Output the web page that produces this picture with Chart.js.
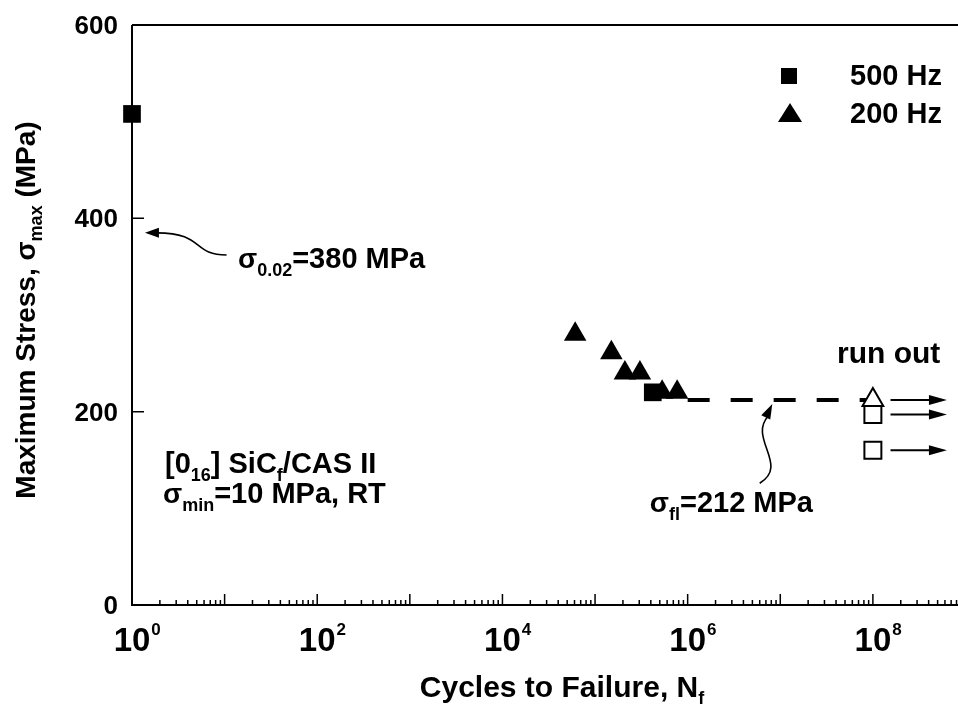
<!DOCTYPE html>
<html>
<head>
<meta charset="utf-8">
<script src="https://cdn.jsdelivr.net/npm/chart.js@4.4.1/dist/chart.umd.min.js"></script>
<style>
html, body { margin: 0; padding: 0; background: #fff; overflow: hidden; }
#wrap { width: 958px; height: 710px; position: relative; }
#fatigueChart { display: block; }
</style>
</head>
<body>
<div id="wrap"><canvas id="fatigueChart"></canvas></div>
<script>
// 500 Hz failures (filled squares)
var sq500Cycles = [1, 4.2e5];
var sq500Stress = [508, 220];
// 200 Hz failures (filled triangles)
var tri200Cycles = [6.1e4, 1.5e5, 2.1e5, 3.05e5, 5.3e5, 7.7e5];
var tri200Stress = [280, 261, 240, 240, 220, 220];
// run outs at 1e8 cycles (open symbols)
var runTriCycles = [1e8];
var runTriStress = [212];
var runSqCycles = [1e8, 1e8];
var runSqStress = [197, 160];
// fatigue limit, dashed
var limitCycles = [1e6, 8.5e7];
var limitStress = [212, 212];
// run out arrows
var arrowFrom = 1.55e8;
var arrowTo = 6.3e8;
var arrowStress = [212, 197, 160];

var yTicks = [0, 200, 400, 600];
var yTickLabels = ['0', '200', '400', '600'];
var xLabelExps = [0, 2, 4, 6, 8];
var xDecades = [0, 1, 2, 3, 4, 5, 6, 7, 8];

var FONT = '"Liberation Sans", Arial, Helvetica, sans-serif';
function font(sz) { return 'bold ' + sz + 'px ' + FONT; }

function pts(xs, ys) {
    return xs.map(function (x, i) { return { x: x, y: ys[i] }; });
}

// parts: [text, size, baseline shift]
function drawRich(ctx, parts, x, y, align) {
    var w = 0;
    parts.forEach(function (p) { ctx.font = font(p[1]); w += ctx.measureText(p[0]).width; });
    var cx = align === 'right' ? x - w : (align === 'center' ? x - w / 2 : x);
    ctx.textAlign = 'left';
    ctx.textBaseline = 'alphabetic';
    parts.forEach(function (p) {
        ctx.font = font(p[1]);
        ctx.fillText(p[0], cx, y + (p[2] || 0));
        cx += ctx.measureText(p[0]).width;
    });
}

function arrowHead(ctx, x, y, ang, len, half) {
    ctx.save();
    ctx.translate(x, y);
    ctx.rotate(ang);
    ctx.beginPath();
    ctx.moveTo(0, 0);
    ctx.lineTo(-len, -half);
    ctx.lineTo(-len, half);
    ctx.closePath();
    ctx.fill();
    ctx.restore();
}

var axesPlugin = {
    id: 'axesPlugin',
    beforeDatasetsDraw: function (chart) {
        var ctx = chart.ctx, a = chart.chartArea;
        var xs = chart.scales.x, ys = chart.scales.y;
        ctx.save();
        ctx.strokeStyle = '#000';
        ctx.lineWidth = 2;
        ctx.beginPath();
        ctx.moveTo(a.left, a.top);
        ctx.lineTo(a.right, a.top);
        ctx.moveTo(a.left, a.top);
        ctx.lineTo(a.left, a.bottom);
        ctx.lineTo(a.right, a.bottom);
        ctx.stroke();

        // inward ticks
        ctx.lineWidth = 1.5;
        ctx.beginPath();
        xDecades.forEach(function (d) {
            for (var m = 1; m <= 9; m++) {
                var v = m * Math.pow(10, d);
                var px = xs.getPixelForValue(v);
                if (px > a.right) continue;
                var len = (m === 1) ? 11 : 5;
                if (m === 1 && d === 0) continue;
                ctx.moveTo(px, a.bottom);
                ctx.lineTo(px, a.bottom - len);
            }
        });
        yTicks.forEach(function (t) {
            var py = ys.getPixelForValue(t);
            ctx.moveTo(a.left, py);
            ctx.lineTo(a.left + 12, py);
        });
        ctx.stroke();

        // tick labels
        ctx.fillStyle = '#000';
        yTicks.forEach(function (t, i) {
            var py = ys.getPixelForValue(t);
            ctx.font = font(26);
            ctx.textAlign = 'right';
            ctx.textBaseline = 'alphabetic';
            ctx.fillText(yTickLabels[i], a.left - 14, py + 9);
        });
        xLabelExps.forEach(function (e) {
            var px = xs.getPixelForValue(Math.pow(10, e));
            ctx.font = font(33);
            var w = ctx.measureText('10').width;
            ctx.textAlign = 'left';
            ctx.fillText('10', px - w / 2, a.bottom + 46);
            ctx.font = font(17);
            ctx.fillText(String(e), px + w / 2 + 1, a.bottom + 30);
        });

        // arrows to the right of the run outs
        var x1 = xs.getPixelForValue(arrowFrom), x2 = xs.getPixelForValue(arrowTo);
        ctx.lineWidth = 2;
        arrowStress.forEach(function (s) {
            var py = ys.getPixelForValue(s);
            ctx.beginPath();
            ctx.moveTo(x1, py);
            ctx.lineTo(x2 - 10, py);
            ctx.stroke();
            arrowHead(ctx, x2, py, 0, 18, 5);
        });
        ctx.restore();
    },
    afterDatasetsDraw: function (chart) {
        var ctx = chart.ctx;
        var xs = chart.scales.x, ys = chart.scales.y;
        ctx.save();
        ctx.fillStyle = '#000';
        ctx.strokeStyle = '#000';

        // axis titles
        drawRich(ctx, [['Cycles to Failure, N', 30], ['f', 18, 7]], 562, 697, 'center');
        ctx.save();
        ctx.translate(35, 310);
        ctx.rotate(-Math.PI / 2);
        drawRich(ctx, [['Maximum Stress, \u03c3', 28], ['max', 18, 7], [' (MPa)', 28]], 0, 0, 'center');
        ctx.restore();

        // legend
        ctx.fillRect(781, 68, 16, 16);
        ctx.beginPath();
        ctx.moveTo(790, 103);
        ctx.lineTo(802, 122);
        ctx.lineTo(778, 122);
        ctx.closePath();
        ctx.fill();
        drawRich(ctx, [['500 Hz', 29]], 850, 85, 'left');
        drawRich(ctx, [['200 Hz', 29]], 850, 123, 'left');

        // annotations
        drawRich(ctx, [['run out', 30]], 837, 363, 'left');
        drawRich(ctx, [['\u03c3', 28], ['0.02', 18, 8], ['=380 MPa', 29]], 238, 268, 'left');
        drawRich(ctx, [['[0', 29], ['16', 18, 8], ['] SiC', 29], ['f', 18, 8], ['/CAS II', 29]], 165, 473, 'left');
        drawRich(ctx, [['\u03c3', 28], ['min', 18, 8], ['=10 MPa, RT', 29]], 163, 503, 'left');
        drawRich(ctx, [['\u03c3', 28], ['fl', 18, 8], ['=212 MPa', 29]], 813, 512, 'right');

        // curved pointer arrows
        ctx.lineWidth = 1.6;
        var sx = xs.getPixelForValue(10.5), sy = ys.getPixelForValue(362);
        var ex = xs.getPixelForValue(1.38), ey = ys.getPixelForValue(385);
        ctx.beginPath();
        ctx.moveTo(sx, sy);
        ctx.bezierCurveTo(sx - 35, sy, sx - 22, ey, ex + 12, ey);
        ctx.stroke();
        arrowHead(ctx, ex, ey, Math.PI, 14, 5);

        var tx = xs.getPixelForValue(6e6), ty = ys.getPixelForValue(126);
        var hx = xs.getPixelForValue(8.2e6), hy = ys.getPixelForValue(208);
        ctx.beginPath();
        ctx.moveTo(tx, ty);
        ctx.bezierCurveTo(tx + 30, ty - 18, tx - 12, ty - 45, hx - 4, hy + 12);
        ctx.stroke();
        arrowHead(ctx, hx, hy, -Math.PI / 2 + 0.45, 15, 5);
        ctx.restore();
    }
};

new Chart('fatigueChart', {
    type: 'scatter',
    data: {
        datasets: [{
            label: '500 Hz',
            data: pts(sq500Cycles, sq500Stress),
            pointStyle: 'rect',
            pointRadius: 12.5,
            backgroundColor: '#000',
            borderColor: '#000',
            borderWidth: 0,
            clip: false,
            order: 1
        }, {
            label: '200 Hz',
            data: pts(tri200Cycles, tri200Stress),
            pointStyle: 'triangle',
            pointRadius: 13,
            backgroundColor: '#000',
            borderColor: '#000',
            borderWidth: 0,
            clip: false,
            order: 0
        }, {
            label: 'run out 200 Hz',
            data: pts(runTriCycles, runTriStress),
            pointStyle: 'triangle',
            pointRadius: 12,
            backgroundColor: '#fff',
            borderColor: '#000',
            borderWidth: 2,
            clip: false,
            order: 0
        }, {
            label: 'run out 500 Hz',
            data: pts(runSqCycles, runSqStress),
            pointStyle: 'rect',
            pointRadius: 12,
            backgroundColor: '#fff',
            borderColor: '#000',
            borderWidth: 2,
            clip: false,
            order: 1
        }, {
            label: 'fatigue limit',
            data: pts(limitCycles, limitStress),
            showLine: true,
            pointRadius: 0,
            borderColor: '#000',
            borderWidth: 4,
            borderDash: [22, 21],
            clip: false,
            order: 5
        }]
    },
    options: {
        responsive: true,
        maintainAspectRatio: false,
        devicePixelRatio: 1,
        animation: false,
        layout: { autoPadding: false, padding: { left: 132, top: 25, right: 0, bottom: 105 } },
        plugins: {
            legend: { display: false },
            tooltip: { enabled: false }
        },
        scales: {
            x: { type: 'logarithmic', min: 1, max: 8.3e8, display: false },
            y: { type: 'linear', min: 0, max: 600, display: false }
        }
    },
    plugins: [axesPlugin]
});
</script>
</body>
</html>
